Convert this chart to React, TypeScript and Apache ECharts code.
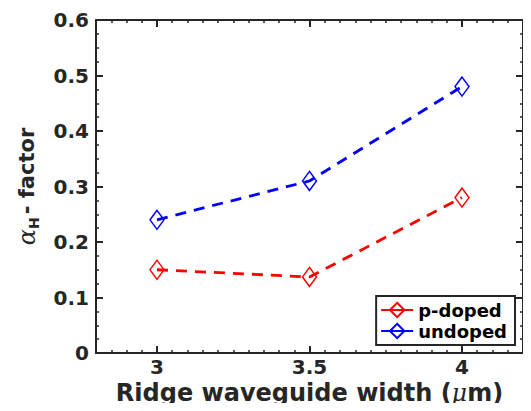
import React, { useEffect, useRef } from "react";
import * as echarts from "echarts";

const widths = [3, 3.5, 4];
const pDoped = [0.15, 0.137, 0.28];
const undoped = [0.24, 0.31, 0.48];
const seriesNames = ["p-doped", "undoped"];
const seriesColors = ["#ff0000", "#0000ff"];
const xTickLabels = [3, 3.5, 4];
const yTickLabels = [0, 0.1, 0.2, 0.3, 0.4, 0.5, 0.6];

const AX = "#262626";
const FONT = "DejaVu Sans";

export default function App() {
  const ref = useRef<HTMLDivElement>(null);
  useEffect(() => {
    if (!ref.current) return;
    const chart = echarts.init(ref.current, null, { renderer: "svg" });
    const xBase = {
      type: "value",
      min: 2.8,
      max: 4.2,
      splitLine: { show: false },
    };
    const yBase = {
      type: "value",
      min: 0,
      max: 0.6,
      interval: 0.1,
      splitLine: { show: false },
    };
    const mk = (vals: number[]) => widths.map((w, i) => [w, vals[i]]);
    chart.setOption({
      animation: false,
      backgroundColor: "#ffffff",
      grid: { left: 96, right: 8, top: 20, bottom: 58, containLabel: false },
      xAxis: [
        {
          ...xBase,
          position: "bottom",
          interval: 0.05,
          axisLine: { show: true, lineStyle: { color: AX, width: 2 } },
          axisTick: { show: true, inside: true, length: 3, lineStyle: { color: AX, width: 1.5 } },
          axisLabel: {
            show: true,
            customValues: xTickLabels,
            formatter: (v: number) => String(v),
            color: AX,
            fontFamily: FONT,
            fontWeight: "bold",
            fontSize: 20,
            lineHeight: 16,
            margin: 6,
          },
          name: "Ridge waveguide width ({mu|μ}m)",
          nameLocation: "middle",
          nameGap: 29,
          nameMoveOverlap: false,
          nameTextStyle: {
            color: AX,
            fontFamily: FONT,
            fontWeight: "bold",
            fontSize: 24,
            lineHeight: 22,
            verticalAlign: "top",
            rich: {
              mu: {
                fontFamily: "DejaVu Serif",
                fontStyle: "italic",
                fontWeight: "normal",
                fontSize: 24,
                lineHeight: 22,
                color: AX,
              },
            },
          },
        },
        {
          ...xBase,
          position: "bottom",
          axisLine: { show: false },
          axisTick: { show: true, inside: true, length: 7, customValues: xTickLabels, lineStyle: { color: AX, width: 2 } },
          axisLabel: { show: false },
        },
        {
          ...xBase,
          position: "top",
          interval: 0.05,
          axisLine: { show: true, lineStyle: { color: AX, width: 2 } },
          axisTick: { show: true, inside: true, length: 3, lineStyle: { color: AX, width: 1.5 } },
          axisLabel: { show: false },
        },
        {
          ...xBase,
          position: "top",
          axisLine: { show: false },
          axisTick: { show: true, inside: true, length: 7, customValues: xTickLabels, lineStyle: { color: AX, width: 2 } },
          axisLabel: { show: false },
        },
      ],
      yAxis: [
        {
          ...yBase,
          position: "left",
          axisLine: { show: true, lineStyle: { color: AX, width: 2 } },
          axisTick: { show: true, inside: true, length: 7, lineStyle: { color: AX, width: 2 } },
          minorTick: { show: true, splitNumber: 4, length: 3, lineStyle: { color: AX, width: 1.5 } },
          axisLabel: {
            show: true,
            customValues: yTickLabels,
            formatter: (v: number) => String(v),
            color: AX,
            fontFamily: FONT,
            fontWeight: "bold",
            fontSize: 20,
            margin: 7,
          },
          name: "{a|α}{h|H}{n|- factor}",
          nameLocation: "middle",
          nameGap: 55,
          nameRotate: 90,
          nameMoveOverlap: false,
          nameTextStyle: {
            color: AX,
            rich: {
              a: {
                fontFamily: "DejaVu Serif",
                fontStyle: "italic",
                fontSize: 24,
                color: AX,
              },
              h: {
                fontFamily: FONT,
                fontWeight: "bold",
                fontSize: 14,
                color: AX,
                padding: [15, 3, 0, 0],
              },
              n: {
                fontFamily: FONT,
                fontWeight: "bold",
                fontSize: 21,
                color: AX,
              },
            },
          },
        },
        {
          ...yBase,
          position: "right",
          axisLine: { show: true, lineStyle: { color: AX, width: 2 } },
          axisTick: { show: true, inside: true, length: 7, lineStyle: { color: AX, width: 2 } },
          minorTick: { show: true, splitNumber: 4, length: 3, lineStyle: { color: AX, width: 1.5 } },
          axisLabel: { show: false },
        },
      ],
      legend: {
        show: true,
        orient: "vertical",
        right: 16,
        top: 296,
        data: seriesNames,
        backgroundColor: "#ffffff",
        borderColor: AX,
        borderWidth: 2,
        borderRadius: 0,
        padding: [5, 8, 5, 4],
        itemWidth: 32,
        itemHeight: 18,
        itemGap: 3,
        lineStyle: { type: "solid", width: 2 },
        textStyle: { color: "#000000", fontFamily: FONT, fontWeight: "bold", fontSize: 18 },
      },
      series: [pDoped, undoped].map((vals, i) => ({
        name: seriesNames[i],
        type: "line",
        xAxisIndex: 0,
        yAxisIndex: 0,
        data: mk(vals),
        color: seriesColors[i],
        symbol: "diamond",
        symbolSize: [14, 19],
        showSymbol: true,
        itemStyle: { color: "rgba(255,255,255,0)", borderColor: seriesColors[i], borderWidth: 1.5 },
        lineStyle: { color: seriesColors[i], width: 2.8, type: [11, 8] },
        z: 3,
      })),
    });
    return () => chart.dispose();
  }, []);
  return <div ref={ref} style={{ width: 531, height: 411, margin: -8 }} />;
}
